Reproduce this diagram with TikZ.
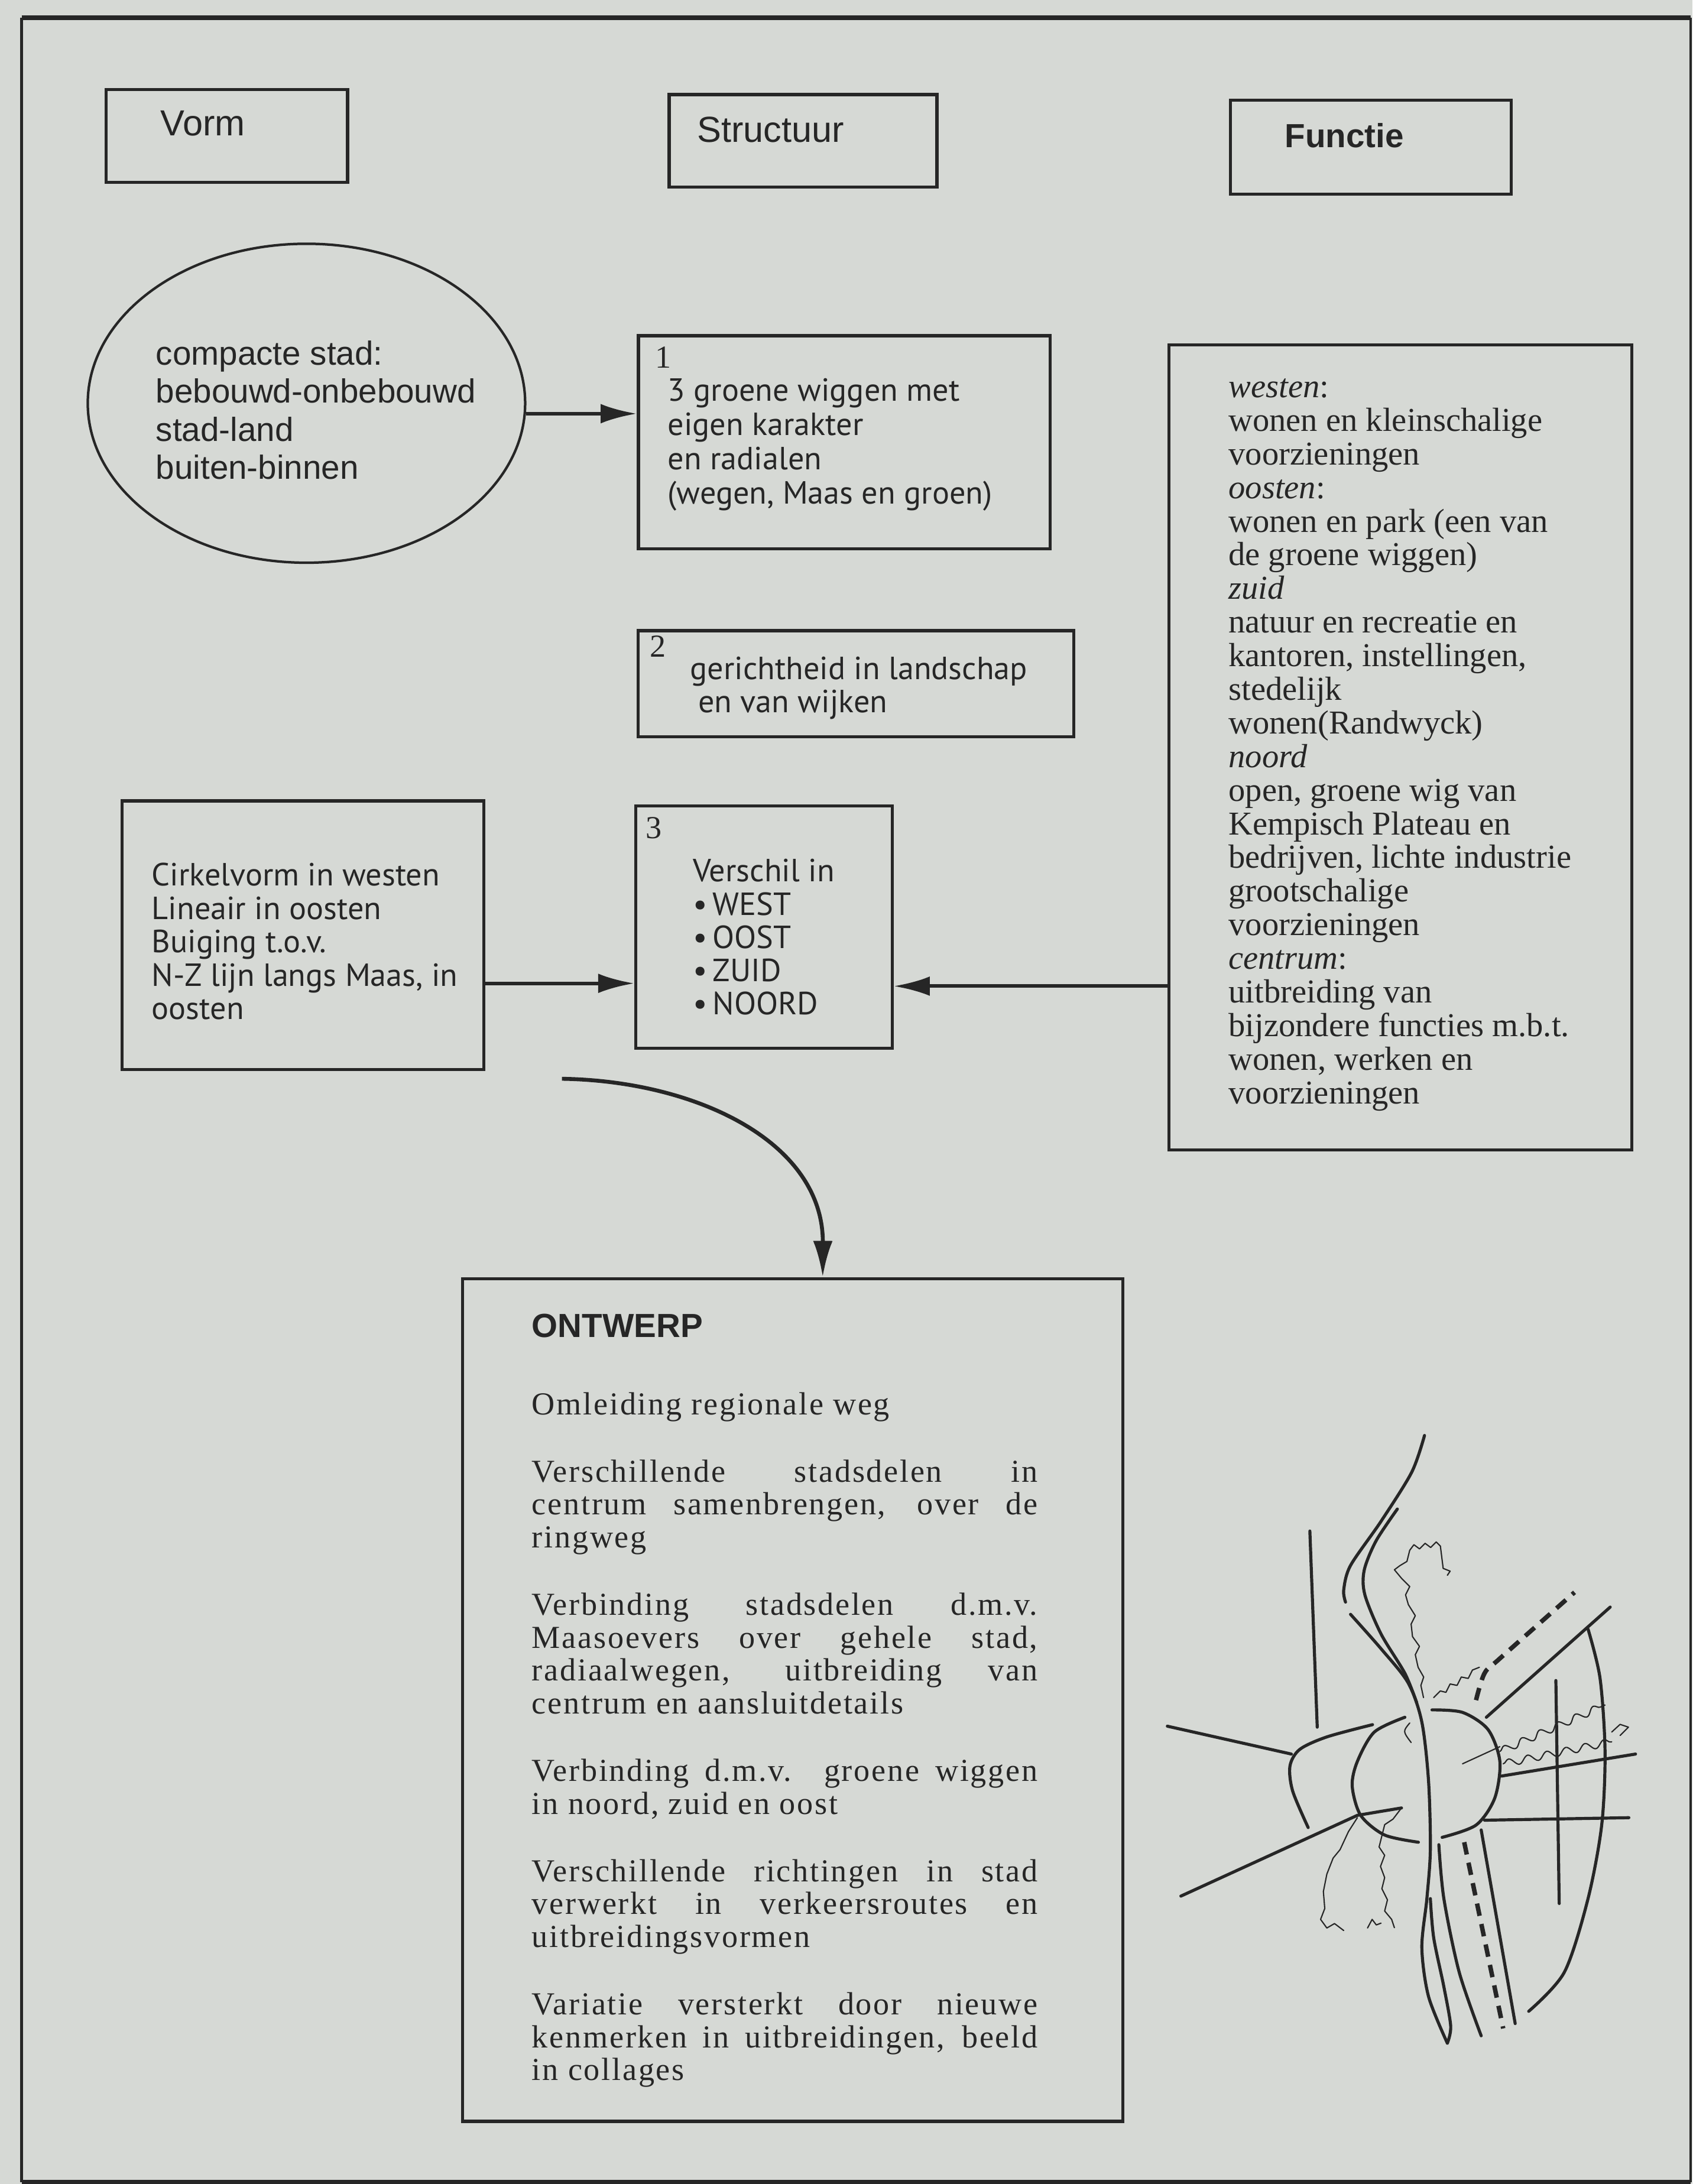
\documentclass[tikz,border=0pt]{standalone}
\usepackage{fontspec}
\setmainfont{Liberation Serif}
\newfontfamily\hsans{Liberation Sans}
\newfontfamily\hum{PT Sans}
\newfontfamily\trk{Liberation Serif}[LetterSpace=5.0]
\usetikzlibrary{arrows.meta,shapes.geometric,fit,calc,decorations.pathmorphing}
\definecolor{paper}{HTML}{D6D9D5}
\definecolor{ink}{HTML}{262626}
% a block of lines whose first baseline is the node's base
\newcommand{\blk}[1]{\begin{tabular}[t]{@{}l@{}}#1\end{tabular}}
% a fully justified line of the design text
\newcommand{\jl}[1]{\makebox[181.5pt][s]{#1}}

\begin{document}
\begin{tikzpicture}[x=0.5pt,y=-0.5pt,
  boxs/.style={draw=ink, line width=1.1pt, inner sep=0pt},
  txt/.style={anchor=base west, inner sep=0pt, text=ink},
  arr/.style={draw=ink, line width=1.3pt, -{Latex[length=13pt,width=7pt]}},
  sk/.style={draw=ink, line width=1.1pt, line cap=round, line join=round},
  skthin/.style={draw=ink, line width=0.45pt, line cap=round, line join=round}]

\fill[paper] (0,0) rectangle (1215,1568);
\useasboundingbox (0,0) rectangle (1215,1568);

% outer frame
\draw[ink, line width=1.8pt] (15.5,12.7) -- (1213.5,12.7);
\draw[ink, line width=0.9pt] (15.5,12.7) -- (15.5,1566.5);
\draw[ink, line width=0.9pt] (1213.5,12.7) -- (1213.5,1566.5);
\draw[ink, line width=1.5pt] (15.5,1566.5) -- (1213.5,1566.5);

% column headers
\node[boxs, fit={(76,64.4) (249.5,130.8)}] (vorm) {};
\node[txt, font=\hsans\fontsize{13}{15}\selectfont] (tvorm) at (115,97.6) {Vorm};
\node[boxs, fit={(480.4,67.9) (672.6,134.4)}] (struc) {};
\node[txt, font=\hsans\fontsize{13}{15}\selectfont] (tstruc) at (500,101.9) {Structuur};
\node[boxs, fit={(883.2,72.1) (1084.7,139.3)}] (func) {};
\node[txt, font=\hsans\bfseries\fontsize{12}{14}\selectfont] (tfunc) at (922,106) {Functie};

% vorm: compact city
\node[ellipse, draw=ink, line width=0.9pt, minimum width=157pt, minimum height=114.5pt, inner sep=0pt] (ell) at (220,289.5) {};
\node[txt, font=\hsans\fontsize{12}{13.67}\selectfont] (tell) at (111.6,262)
  {\blk{compacte stad:\\ bebouwd-onbebouwd\\ stad-land\\ buiten-binnen}};

% structuur 1
\node[boxs, fit={(458.3,241) (753.8,394)}] (b1) {};
\node[txt, font=\fontsize{11.5}{12.3}\selectfont] (n1) at (470,264) {1};
\node[txt, font=\hum\fontsize{11.5}{12.3}\selectfont] (t1) at (479,288)
  {\blk{3 groene wiggen met\\ eigen karakter\\ en radialen\\ (wegen, Maas en groen)}};

% structuur 2
\node[boxs, fit={(458,452.8) (771,529)}] (b2) {};
\node[txt, font=\fontsize{11.5}{12.3}\selectfont] (n2) at (466,471.8) {2};
\node[txt, font=\hum\fontsize{11.5}{11.8}\selectfont] (t2) at (495,488)
  {\blk{gerichtheid in landschap\\ \hspace{2.9pt}en van wijken}};

% structuur 3
\node[boxs, fit={(456.5,578.5) (640.4,752.6)}] (b3) {};
\node[txt, font=\fontsize{11.5}{12.3}\selectfont] (n3) at (463,602) {3};
\node[txt, font=\hum\fontsize{11.5}{11.95}\selectfont] (t3) at (497,633)
  {\blk{Verschil in\\ \textbullet\,WEST\\ \textbullet\,OOST\\ \textbullet\,ZUID\\ \textbullet\,NOORD}};

% vorm: circle and line
\node[boxs, fit={(87.8,575) (347.4,768)}] (lb) {};
\node[txt, font=\hum\fontsize{11.5}{12}\selectfont] (tlb) at (108.6,635.9)
  {\blk{Cirkelvorm in westen\\ Lineair in oosten\\ Buiging t.o.v.\\ N-Z lijn langs Maas, in\\ oosten}};

% functie
\node[boxs, fit={(839,247.5) (1171.3,825.5)}] (fb) {};
\node[txt, font=\fontsize{12}{12.07}\selectfont] (tfb) at (881.6,285.4)
  {\blk{\textit{westen}:\\ wonen en kleinschalige\\ voorzieningen\\ \textit{oosten}:\\
   wonen en park (een van\\ de groene wiggen)\\ \textit{zuid}\\ natuur en recreatie en\\
   kantoren, instellingen,\\ stedelijk\\ wonen(Randwyck)\\ \textit{noord}\\
   open, groene wig van\\ Kempisch Plateau en\\ bedrijven, lichte industrie\\
   grootschalige\\ voorzieningen\\ \textit{centrum}:\\ uitbreiding van\\
   bijzondere functies m.b.t.\\ wonen, werken en\\ voorzieningen}};

% ontwerp
\node[boxs, fit={(332,918) (806,1523)}] (ont) {};
\node[txt, font=\hsans\bfseries\fontsize{12}{14}\selectfont] (tont) at (381.5,960) {ONTWERP};
\node[txt, font=\trk\fontsize{11.5}{11.8}\selectfont] (tbody) at (381.5,1015.6)
  {\blk{Omleiding regionale weg\\[12.4pt]
   \jl{Verschillende stadsdelen in}\\ \jl{centrum samenbrengen, over de}\\ ringweg\\[12.4pt]
   \jl{Verbinding stadsdelen d.m.v.}\\ \jl{Maasoevers over gehele stad,}\\
   \jl{radiaalwegen, uitbreiding van}\\ centrum en aansluitdetails\\[12.4pt]
   \jl{Verbinding d.m.v. groene wiggen}\\ in noord, zuid en oost\\[12.4pt]
   \jl{Verschillende richtingen in stad}\\ \jl{verwerkt in verkeersroutes en}\\ uitbreidingsvormen\\[12.4pt]
   \jl{Variatie versterkt door nieuwe}\\ \jl{kenmerken in uitbreidingen, beeld}\\ in collages}};

% connectors
\coordinate (e1) at ($(ell.east)+(-0.3,7.5)$);
\draw[arr] (e1) -- (e1 -| b1.west);
\coordinate (l3) at ($(lb.east)+(0,34.5)$);
\draw[arr] (l3) -- (l3 -| b3.west);
\coordinate (f3) at ($(fb.west)+(0,171.5)$);
\draw[arr] (f3) -- (f3 -| b3.east);
\coordinate (cs) at (403.4,774.5);
\coordinate (ce) at ($(ont.north)+(21.6,0)$);
\draw[arr, line width=1.4pt] (cs) .. controls (500,776) and (591,820) .. (ce);

% sketch of the city plan
\begin{scope}
% roads to the west
\draw[sk] (940.3,1099.2) -- (945.6,1240.0);
\draw[sk] (838.0,1239.3) -- (927,1259.3);
\draw[sk] plot[smooth] coordinates {(939.1,1312.1) (928,1286) (926,1268) (933,1256) (952.5,1247) (985.3,1238.2)};
\draw[sk] (847.7,1361.3) -- (974.4,1303.3) -- (1006.1,1298);
% west and east halves of the centre
\draw[sk] plot[smooth] coordinates {(1008.5,1232.9) (986.6,1243.5) (974.4,1264.6) (970.7,1282.2) (976.8,1303.3) (993.9,1317.4) (1018.2,1322.6)};
\draw[sk] plot[smooth] coordinates {(1028,1227.6) (1049.9,1229.4) (1068.2,1241.7) (1076.7,1264.6) (1073,1291) (1059.6,1310.3) (1035.3,1319.1)};
\draw[skthin] (1049.9,1266.3) -- (1076.7,1254);
\draw[skthin] (1012,1237) .. controls (1007,1243) .. (1013,1251);
% river Maas
\draw[sk] plot[smooth] coordinates {(1022.6,1030.6) (1013.4,1057) (991.4,1092.2) (969.5,1123.9) (964.6,1141.5) (965.9,1150.2)};
\draw[sk] plot[smooth] coordinates {(1003.1,1083.4) (987.8,1106.3) (979.3,1127.4) (979.8,1145) (991.4,1173.1) (1008.5,1201.3) (1017,1222.4)};
\draw[sk] plot[smooth] coordinates {(969.5,1159) (991.4,1183.7) (1010.9,1208.3) (1020.7,1236.4) (1025.5,1278.7) (1026.8,1327.9) (1024.3,1363.1) (1020.7,1398.3) (1025.5,1433.4) (1039,1466.9)};
\draw[sk] plot[smooth] coordinates {(1039,1466.9) (1041.4,1454.6) (1036.5,1426.4) (1029.2,1391.2) (1026.8,1363.1)};
% roads to the south
\draw[sk] plot[smooth] coordinates {(1032.9,1324.4) (1036.5,1363.1) (1047.5,1415.9) (1063.3,1461.6)};
\draw[sk, line width=1.6pt, line cap=butt, dash pattern=on 4.5pt off 3pt] (1051.1,1322.6) -- (1079.1,1456.3);
\draw[sk] (1063.3,1313.8) -- (1087.7,1452.8);
% eastern edge and roads
\draw[sk] plot[smooth] coordinates {(1140,1169.6) (1148.6,1204.8) (1152.2,1257.5) (1149.8,1310.3) (1140,1363.1) (1123,1415.9) (1097.4,1444)};
\draw[sk] (1067,1232.9) -- (1155.9,1153.8);
\draw[sk, line width=1.6pt, line cap=butt, dash pattern=on 4.5pt off 3pt] plot[smooth] coordinates {(1059.6,1220.6) (1065.7,1201.3) (1076.7,1190.7) (1130.3,1143.2)};
\draw[sk] (1077.9,1275.1) -- (1174.1,1259.3);
\draw[sk] (1065.7,1306.8) -- (1169.3,1305);
\draw[sk] (1116.9,1206.5) -- (1119.3,1366.6);
% brook valleys
\draw[skthin, decorate, decoration={snake, amplitude=1.3pt, segment length=7pt}] (1076.7,1257.5) -- (1152.2,1224.1);
\draw[skthin, decorate, decoration={snake, amplitude=1.3pt, segment length=7pt}] (1079.1,1266.3) -- (1157,1250.5);
\draw[skthin] (1157,1243.5) -- (1163,1238) -- (1169,1240) -- (1163,1246);
% green edges
\draw[skthin] (1021.9,1218.8) -- (1020,1210) -- (1022,1204) -- (1018,1197) -- (1016,1188) -- (1019,1182) -- (1014,1175) -- (1013,1166) -- (1016,1160) -- (1011,1152) -- (1009,1145) -- (1012,1139) -- (1006,1133) -- (1001,1127) -- (1005,1124) -- (1010,1121) -- (1012,1113) -- (1015,1109) -- (1019,1112) -- (1023,1108) -- (1027,1111) -- (1031,1107) -- (1034,1110) -- (1035,1118) -- (1036,1126) -- (1041,1128) -- (1039,1131);
\draw[skthin] (1029.2,1218.8) -- (1034,1214) -- (1038,1215) -- (1041,1209) -- (1046,1210) -- (1049,1204) -- (1054,1205) -- (1057,1199) -- (1062,1197);
\draw[skthin] (1006.1,1298) -- (1000,1306) -- (994,1310) -- (992,1318) -- (990,1326) -- (994,1332) -- (991,1340) -- (994,1348) -- (992,1356) -- (996,1364) -- (994,1372) -- (999,1378) -- (1001,1384);
\draw[skthin] (981.7,1384.2) -- (985,1378) -- (988,1382) -- (991.4,1380.7);
\draw[skthin] (974.4,1305) -- (968,1315) -- (962,1327.9) -- (957,1334) -- (952.5,1345.5) -- (950,1358) -- (951,1370.2) -- (948,1378) -- (952.5,1384.2) -- (958,1381) -- (964.6,1386);
\end{scope}

\end{tikzpicture}
\end{document}
